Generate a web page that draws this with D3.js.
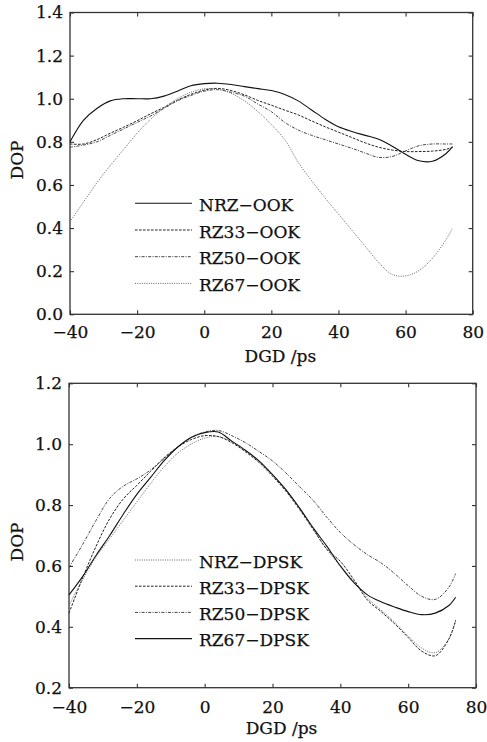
<!DOCTYPE html>
<html>
<head>
<meta charset="utf-8">
<script src="https://cdn.jsdelivr.net/npm/d3@7"></script>
<style>
  body { margin: 0; background: #fff; }
  svg { display: block; font-family: "DejaVu Serif", serif; }
  svg text { stroke: #111; stroke-width: 0.25px; }
</style>
</head>
<body>
<div id="chart"></div>
<script>
// DGD grid (ps), shared by every curve
var dgd = [-40,-36,-32,-28,-24,-20,-16,-12,-8,-4,0,4,8,12,16,20,24,28,32,36,40,44,48,52,56,60,64,68,72,74];

// top panel: OOK formats
var ookNames = ["NRZ\u2212OOK","RZ33\u2212OOK","RZ50\u2212OOK","RZ67\u2212OOK"];
var nrzOok  = [0.80,0.90,0.955,0.99,1.0,1.0,1.0,1.012,1.035,1.06,1.07,1.072,1.066,1.056,1.047,1.038,1.02,0.99,0.948,0.905,0.87,0.848,0.83,0.812,0.78,0.742,0.712,0.71,0.745,0.778];
var rz33Ook = [0.79,0.79,0.81,0.84,0.868,0.898,0.93,0.96,0.993,1.02,1.04,1.048,1.038,1.018,0.992,0.97,0.947,0.925,0.897,0.87,0.845,0.82,0.795,0.775,0.762,0.755,0.755,0.757,0.765,0.775];
var rz50Ook = [0.775,0.785,0.80,0.83,0.86,0.89,0.92,0.955,0.99,1.015,1.035,1.042,1.03,1.012,0.975,0.94,0.89,0.855,0.83,0.81,0.79,0.77,0.748,0.728,0.732,0.758,0.782,0.79,0.79,0.79];
var rz67Ook = [0.43,0.52,0.61,0.69,0.765,0.84,0.905,0.958,1.0,1.03,1.046,1.045,1.025,0.99,0.94,0.88,0.81,0.705,0.62,0.54,0.465,0.39,0.315,0.24,0.185,0.178,0.203,0.26,0.345,0.40];

// bottom panel: DPSK formats
var dpskNames = ["NRZ\u2212DPSK","RZ33\u2212DPSK","RZ50\u2212DPSK","RZ67\u2212DPSK"];
var nrzDpsk  = [0.47,0.555,0.63,0.69,0.75,0.81,0.87,0.925,0.97,1.0,1.02,1.025,1.008,0.98,0.945,0.9,0.848,0.79,0.722,0.655,0.6,0.55,0.495,0.455,0.415,0.37,0.33,0.315,0.36,0.42];
var rz33Dpsk = [0.445,0.56,0.665,0.755,0.82,0.865,0.91,0.955,0.99,1.015,1.028,1.025,1.005,0.975,0.94,0.895,0.845,0.785,0.72,0.655,0.615,0.555,0.488,0.45,0.41,0.365,0.32,0.305,0.36,0.422];
var rz50Dpsk = [0.595,0.67,0.75,0.822,0.862,0.886,0.915,0.952,0.99,1.022,1.04,1.045,1.028,1.005,0.976,0.945,0.905,0.86,0.815,0.76,0.71,0.67,0.637,0.61,0.575,0.535,0.5,0.49,0.53,0.575];
var rz67Dpsk = [0.505,0.565,0.635,0.70,0.77,0.835,0.89,0.945,0.99,1.022,1.038,1.04,1.01,0.98,0.945,0.9,0.85,0.79,0.725,0.665,0.6,0.545,0.505,0.482,0.465,0.45,0.44,0.445,0.47,0.497];

var xTicks = [-40,-20,0,20,40,60,80];
var ookTicks = [0,0.2,0.4,0.6,0.8,1.0,1.2,1.4];
var dpskTicks = [0.2,0.4,0.6,0.8,1.0,1.2];

// line looks: solid, dashed, dash-dot, dotted
var styles = {
  solid:   {dash: null,          color: "#111", w: 1.1},
  dashed:  {dash: "2.6,1.4",     color: "#222", w: 1},
  dashdot: {dash: "3,1.3,1,1.3", color: "#444", w: 1},
  dotted:  {dash: "1,1.3",       color: "#666", w: 1}
};

var W = 487, H = 742;
var svg = d3.select("#chart").append("svg").attr("width", W).attr("height", H);

function panel(opt){
  var x = d3.scaleLinear().domain([-40,80]).range([opt.left, opt.right]);
  var y = d3.scaleLinear().domain(opt.ydom).range([opt.bottom, opt.top]);
  var g = svg.append("g");

  g.append("g").attr("transform","translate(0,"+opt.bottom+")")
    .call(d3.axisBottom(x).tickValues(xTicks).tickSize(-4).tickSizeOuter(0).tickPadding(opt.xpad));
  g.append("g").attr("transform","translate("+opt.left+",0)")
    .call(d3.axisLeft(y).tickValues(opt.yticks).tickSize(-4).tickSizeOuter(0).tickPadding(7).tickFormat(d3.format(".1f")));
  g.append("g").attr("transform","translate(0,"+opt.top+")")
    .call(d3.axisTop(x).tickValues(xTicks).tickSize(-4).tickSizeOuter(0).tickFormat(""));
  g.append("g").attr("transform","translate("+opt.right+",0)")
    .call(d3.axisRight(y).tickValues(opt.yticks).tickSize(-4).tickSizeOuter(0).tickFormat(""));

  g.selectAll(".domain").remove();
  g.selectAll(".tick line").attr("stroke","#333").attr("stroke-width",1.1);
  g.selectAll(".tick text").attr("font-size",17).attr("fill","#111").attr("font-family","DejaVu Serif");

  g.append("rect")
    .attr("x",opt.left).attr("y",opt.top)
    .attr("width",opt.right-opt.left).attr("height",opt.bottom-opt.top)
    .attr("fill","none").attr("stroke","#333").attr("stroke-width",1.3);

  var line = d3.line()
    .x(function(d,i){ return x(dgd[i]); })
    .y(function(d){ return y(d); })
    .curve(d3.curveCatmullRom);

  opt.series.forEach(function(s){
    var st = styles[s.style];
    g.append("path").datum(s.values)
      .attr("d",line).attr("fill","none")
      .attr("stroke",st.color).attr("stroke-width",st.w)
      .attr("stroke-dasharray",st.dash);
  });

  // legend
  opt.series.forEach(function(s,i){
    var st = styles[s.style];
    var ly = opt.legY + i*opt.legStep;
    g.append("line")
      .attr("x1",135).attr("x2",192).attr("y1",ly).attr("y2",ly)
      .attr("stroke",st.color).attr("stroke-width",st.w)
      .attr("stroke-dasharray",st.dash);
    g.append("text").attr("x",199).attr("y",ly+7.5)
      .attr("font-size",17).attr("fill","#111").text(s.name);
  });

  // axis titles
  g.append("text")
    .attr("x",(opt.left+opt.right)/2+9).attr("y",opt.xlabY)
    .attr("text-anchor","middle").attr("font-size",17).attr("fill","#111")
    .text("DGD /ps");
  g.append("text")
    .attr("transform","translate(23,"+opt.ylabY+") rotate(-90)")
    .attr("text-anchor","middle").attr("font-size",17).attr("fill","#111")
    .text("DOP");
}

panel({
  left:70, right:472.7, top:12.5, bottom:314.3, ydom:[0,1.4], yticks:ookTicks, xpad:12,
  xlabY:362, ylabY:160, legY:203.3, legStep:26.7,
  series:[
    {name:ookNames[0], values:nrzOok,  style:"solid"},
    {name:ookNames[1], values:rz33Ook, style:"dashed"},
    {name:ookNames[2], values:rz50Ook, style:"dashdot"},
    {name:ookNames[3], values:rz67Ook, style:"dotted"}
  ]
});

panel({
  left:69, right:476, top:383.3, bottom:687.7, ydom:[0.2,1.2], yticks:dpskTicks, xpad:13,
  xlabY:734, ylabY:542, legY:560, legStep:26.2,
  series:[
    {name:dpskNames[0], values:nrzDpsk,  style:"dotted"},
    {name:dpskNames[1], values:rz33Dpsk, style:"dashed"},
    {name:dpskNames[2], values:rz50Dpsk, style:"dashdot"},
    {name:dpskNames[3], values:rz67Dpsk, style:"solid"}
  ]
});
</script>
</body>
</html>
